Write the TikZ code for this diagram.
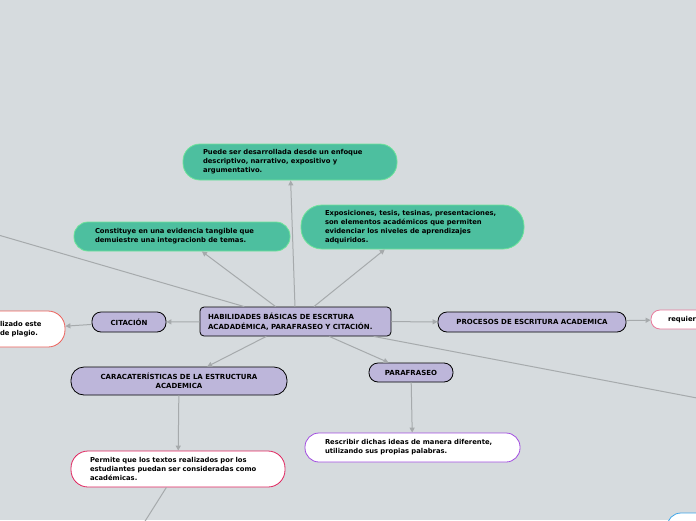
\documentclass[tikz,border=0pt]{standalone}
\usepackage{fontspec}
\setmainfont{DejaVu Sans}
\usetikzlibrary{arrows.meta}
\definecolor{mapBg}{RGB}{214,219,222}
\definecolor{topicPurple}{RGB}{189,182,218}
\definecolor{ideaGreen}{RGB}{77,191,159}
\definecolor{ideaEdge}{RGB}{110,227,154}
\definecolor{linkGray}{RGB}{166,170,172}
\definecolor{noteRed}{RGB}{236,96,90}
\definecolor{notePink}{RGB}{232,120,154}
\definecolor{noteViolet}{RGB}{162,77,224}
\definecolor{noteCrimson}{RGB}{224,36,94}
\definecolor{noteBlue}{RGB}{61,165,232}
\tikzset{
  topic/.style={draw=black, line width=0.8pt, fill=topicPurple, align=center, inner sep=0pt, font=\fontsize{7}{9.5}\selectfont\bfseries},
  idea/.style={draw=ideaEdge, line width=0.8pt, fill=ideaGreen, align=left, inner ysep=0pt, font=\fontsize{6.8}{9}\selectfont\bfseries},
  note/.style={line width=0.8pt, fill=white, align=left, inner ysep=0pt, font=\fontsize{6.8}{9}\selectfont\bfseries},
  link/.style={draw=linkGray, line width=1pt, -{Triangle[length=5pt,width=5pt]}},
  plainlink/.style={draw=linkGray, line width=1pt}
}

\begin{document}
\begin{tikzpicture}[x=1pt,y=1pt]
  \useasboundingbox (0,0) rectangle (696,-520);
  \fill[mapBg] (0,0) rectangle (696,-520);
  \clip (0,0) rectangle (696,-520);

  \node[topic, rounded corners=4pt, align=left, text width=175pt, inner xsep=8pt, minimum height=29pt] (hab) at (295.5,-321.5) {HABILIDADES BÁSICAS DE ESCRTURA\\ACADADÉMICA, PARAFRASEO Y CITACIÓN.};

  \node[idea, text width=174pt, inner xsep=20pt, minimum height=36pt, rounded corners=17pt] (desarr) at (290,-162) {Puede ser desarrollada desde un enfoque\\descriptivo, narrativo, expositivo y\\argumentativo.};
  \node[idea, text width=174pt, inner xsep=21pt, minimum height=29pt, rounded corners=14pt] (evid) at (182,-236.5) {Constituye en una evidencia tangible que\\demuiestre una integracionb de temas.};
  \node[idea, text width=175pt, inner xsep=24pt, minimum height=44pt, rounded corners=21pt] (expos) at (412.5,-227) {Exposiciones, tesis, tesinas, presentaciones,\\son elementos académicos que permiten\\evidenciar los niveles de aprendizajes\\adquiridos.};

  \node[topic, rounded corners=9pt, minimum width=74pt, minimum height=20pt] (cita) at (129,-322) {CITACIÓN};
  \node[note, draw=noteRed, text width=43pt, inner xsep=22pt, minimum height=36pt, rounded corners=17pt] (plagio) at (21.5,-329) {lizado este\\de plagio.};

  \node[topic, rounded corners=9pt, minimum width=188pt, minimum height=20pt] (proc) at (532,-322) {PROCESOS DE ESCRITURA ACADEMICA};
  \node[note, draw=notePink, text width=50pt, inner xsep=17pt, minimum height=19pt, rounded corners=9pt] (requ) at (693,-319.5) {requier};

  \node[topic, rounded corners=13pt, minimum width=216pt, minimum height=28pt] (carac) at (179,-381) {CARACATERÍSTICAS DE LA ESTRUCTURA\\ACADEMICA};
  \node[note, draw=noteCrimson, text width=176pt, inner xsep=19pt, minimum height=36pt, rounded corners=17pt] (acad) at (178,-469) {Permite que los textos realizados por los\\estudiantes puedan ser consideradas como\\académicas.};

  \node[topic, rounded corners=9pt, minimum width=84pt, minimum height=19pt] (para) at (411,-372.5) {PARAFRASEO};
  \node[note, draw=noteViolet, text width=175pt, inner xsep=20pt, minimum height=29pt, rounded corners=14pt] (rescr) at (412.5,-447.5) {Rescribir dichas ideas de manera diferente,\\utilizando sus propias palabras.};

  \node[note, draw=noteBlue, minimum width=106pt, minimum height=34pt, rounded corners=14pt] (extra) at (720,-530) {};

  % ramas que salen del recuadro
  \coordinate (leftoff) at (-60,-218);
  \coordinate (rightoff) at (760,-410);
  \coordinate (downoff) at (130,-545);

  \draw[link] (hab) -- (desarr);
  \draw[link] (hab) -- (evid);
  \draw[link] (hab) -- (expos);
  \draw[plainlink] (hab) -- (leftoff);
  \draw[link] (hab) -- (cita);
  \draw[link] (cita) -- (plagio);
  \draw[link] (hab) -- (proc);
  \draw[link] (proc) -- (requ);
  \draw[link] (hab) -- (carac);
  \draw[link] (hab) -- (para);
  \draw[plainlink] (hab) -- (rightoff);
  \draw[link] (carac) -- (acad);
  \draw[link] (para) -- (rescr);
  \draw[plainlink] (acad) -- (downoff);
\end{tikzpicture}
\end{document}
